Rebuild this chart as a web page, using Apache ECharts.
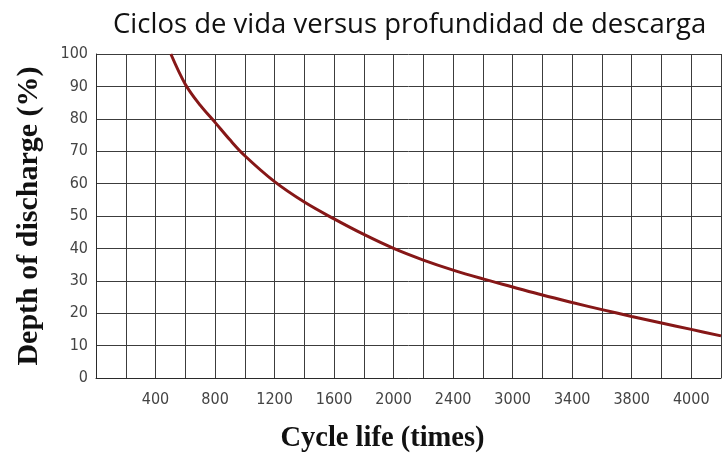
<!DOCTYPE html>
<html>
<head>
<meta charset="utf-8">
<script src="https://cdn.jsdelivr.net/npm/echarts@6/dist/echarts.min.js"></script>
<style>
html,body{margin:0;padding:0;background:#fff;}
#chart{width:725px;height:460px;}
</style>
</head>
<body>
<div id="chart"></div>
<script>
// Cycle life (nominal axis position) vs depth of discharge
var cycleLife = [503, 600, 700, 800, 900, 1000, 1200, 1400, 1600, 1800, 2000, 2200, 2400, 2600, 2800, 3000, 3200, 3400, 3600, 3800, 4000, 4200];
var depthOfDischarge = [100, 90.7, 84.2, 78.9, 73.5, 68.6, 60.6, 54.3, 49.1, 44.3, 40.0, 36.4, 33.3, 30.6, 28.1, 25.6, 23.3, 21.1, 19.0, 17.0, 15.0, 13.0];
// Tick labels as printed on the original chart (every second gridline)
var xTickLabels = ['400', '800', '1200', '1600', '2000', '2400', '3000', '3400', '3800', '4000'];
var titleText = 'Ciclos de vida versus profundidad de descarga';
var xName = 'Cycle life (times)';
var yName = 'Depth of discharge (%)';

var points = cycleLife.map(function (x, i) { return [x, depthOfDischarge[i]]; });

var chart = echarts.init(document.getElementById('chart'), null, {renderer: 'canvas'});
chart.setOption({
  animation: false,
  backgroundColor: '#ffffff',
  title: {
    text: titleText,
    left: 108,
    top: 6,
    textStyle: {fontFamily: 'Open Sans', fontSize: 27.5, fontWeight: 'normal', color: '#111'}
  },
  grid: {left: 96, right: 4, top: 54, bottom: 82, containLabel: false},
  xAxis: {
    type: 'value', min: 0, max: 4200, interval: 200,
    name: xName, nameLocation: 'middle', nameGap: 46,
    nameTextStyle: {fontFamily: 'Liberation Serif', fontWeight: 'bold', fontSize: 28.5, color: '#111', padding: [0, 52, 0, 0]},
    axisLine: {show: true, lineStyle: {color: '#2a2a2a', width: 1}},
    axisTick: {show: false},
    axisLabel: {
      margin: 14, color: '#444', fontFamily: 'DejaVu Sans Condensed', fontSize: 16,
      formatter: function (v) {
        if (v > 0 && v % 400 === 0) { return xTickLabels[v / 400 - 1] || ''; }
        return '';
      }
    },
    splitLine: {show: true, lineStyle: {color: '#3c3c3c', width: 1}}
  },
  yAxis: {
    type: 'value', min: 0, max: 100, interval: 10,
    name: yName, nameLocation: 'middle', nameGap: 52,
    nameTextStyle: {fontFamily: 'Liberation Serif', fontWeight: 'bold', fontSize: 30, color: '#111'},
    axisLine: {show: true, lineStyle: {color: '#2a2a2a', width: 1}},
    axisTick: {show: false},
    axisLabel: {margin: 8, color: '#444', fontFamily: 'DejaVu Sans Condensed', fontSize: 16},
    splitLine: {show: true, lineStyle: {color: '#3c3c3c', width: 1}}
  },
  series: [{
    type: 'line',
    data: points,
    smooth: 0.35,
    showSymbol: false,
    lineStyle: {color: '#861717', width: 3},
    itemStyle: {color: '#861717'}
  }]
});
</script>
</body>
</html>
